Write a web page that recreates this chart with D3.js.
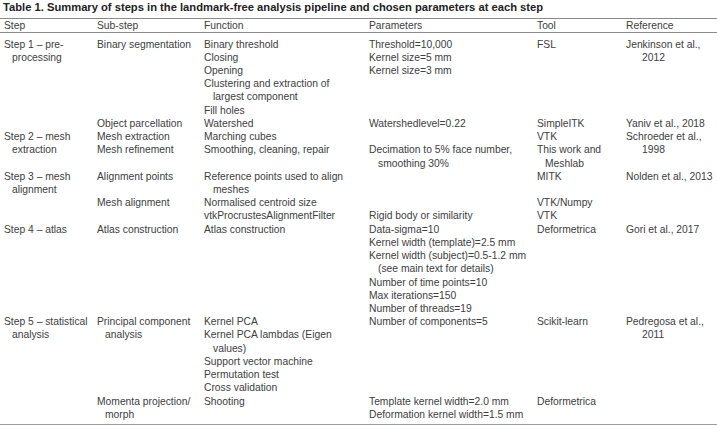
<!DOCTYPE html>
<html>
<head>
<meta charset="utf-8">
<script src="https://cdn.jsdelivr.net/npm/d3@7"></script>
<style>
  body { margin: 0; background: #fff; }
  text { font-family: "Liberation Sans", Arial, sans-serif; }
</style>
</head>
<body>
<div id="canvas"></div>
<script>
// Each cell is a list of entries; an entry is a list of wrapped lines.
const title = "Table 1. Summary of steps in the landmark-free analysis pipeline and chosen parameters at each step";
const headers = ["Step", "Sub-step", "Function", "Parameters", "Tool", "Reference"];

const steps = [
  [["Step 1 – pre-", "processing"]], [], [["Step 2 – mesh", "extraction"]], [],
  [["Step 3 – mesh", "alignment"]], [], [], [["Step 4 – atlas"]],
  [["Step 5 – statistical", "analysis"]], []
];
const subSteps = [
  [["Binary segmentation"]], [["Object parcellation"]], [["Mesh extraction"]], [["Mesh refinement"]],
  [["Alignment points"]], [["Mesh alignment"]], [], [["Atlas construction"]],
  [["Principal component", "analysis"]], [["Momenta projection/", "morph"]]
];
const functions = [
  [["Binary threshold"], ["Closing"], ["Opening"], ["Clustering and extraction of", "largest component"], ["Fill holes"]],
  [["Watershed"]], [["Marching cubes"]], [["Smoothing, cleaning, repair"]],
  [["Reference points used to align", "meshes"]], [["Normalised centroid size"]], [["vtkProcrustesAlignmentFilter"]],
  [["Atlas construction"]],
  [["Kernel PCA"], ["Kernel PCA lambdas (Eigen", "values)"], ["Support vector machine"], ["Permutation test"], ["Cross validation"]],
  [["Shooting"]]
];
const parameters = [
  [["Threshold=10,000"], ["Kernel size=5 mm"], ["Kernel size=3 mm"]],
  [["Watershedlevel=0.22"]], [], [["Decimation to 5% face number,", "smoothing 30%"]],
  [], [], [["Rigid body or similarity"]],
  [["Data-sigma=10"], ["Kernel width (template)=2.5 mm"], ["Kernel width (subject)=0.5-1.2 mm", "(see main text for details)"],
   ["Number of time points=10"], ["Max iterations=150"], ["Number of threads=19"]],
  [["Number of components=5"]],
  [["Template kernel width=2.0 mm"], ["Deformation kernel width=1.5 mm"]]
];
const tools = [
  [["FSL"]], [["SimpleITK"]], [["VTK"]], [["This work and", "Meshlab"]],
  [["MITK"]], [["VTK/Numpy"]], [["VTK"]], [["Deformetrica"]], [["Scikit-learn"]], [["Deformetrica"]]
];
const references = [
  [["Jenkinson et al.,", "2012"]], [["Yaniv et al., 2018"]], [["Schroeder et al.,", "1998"]], [],
  [["Nolden et al., 2013"]], [], [], [["Gori et al., 2017"]], [["Pedregosa et al.,", "2011"]], []
];

const width = 717, height = 425;
const svg = d3.select("#canvas").append("svg").attr("width", width).attr("height", height);

const columns = [steps, subSteps, functions, parameters, tools, references];
const colX = d3.scaleOrdinal().domain(d3.range(6)).range([4, 97, 204, 369, 537, 626]);
const indent = [8, 8, 9, 9, 8, 16];

const flat = cell => cell.flatMap(entry => entry.map((t, k) => ({ t, cont: k > 0 })));

// row start lines: step & reference columns overflow into next rows
const rowStart = [];
let acc = 0;
for (let r = 0; r < subSteps.length; r++) {
  rowStart.push(acc);
  acc += d3.max([subSteps, functions, parameters, tools], c => flat(c[r]).length) || 1;
}
const nLines = acc;

const lineY = d3.scaleLinear().domain([0, 1]).range([44, 44 + 13.22]);
const fs = 10.3;
const textColor = "#404040";

svg.append("text").attr("x", 3).attr("y", 7).attr("dy", "0.35em")
  .attr("font-size", 11.2).attr("font-weight", "bold").attr("fill", "#222")
  .text(title);

const rules = [18, 32, lineY(nLines - 1) + 10];
svg.selectAll("line.rule").data(rules).enter().append("line")
  .attr("x1", 0).attr("x2", width)
  .attr("y1", d => d + 0.5).attr("y2", d => d + 0.5)
  .attr("stroke", "#8a8a8a").attr("stroke-width", 1);

svg.selectAll("text.hdr").data(headers).enter().append("text")
  .attr("x", (d, i) => colX(i)).attr("y", 25).attr("dy", "0.35em")
  .attr("font-size", fs).attr("fill", textColor)
  .text(d => d);

const cells = [];
columns.forEach((col, c) => {
  col.forEach((cell, r) => {
    flat(cell).forEach((l, k) => {
      cells.push({ x: colX(c) + (l.cont ? indent[c] : 0), line: rowStart[r] + k, t: l.t });
    });
  });
});

svg.selectAll("text.cell").data(cells).enter().append("text")
  .attr("x", d => d.x).attr("y", d => lineY(d.line)).attr("dy", "0.35em")
  .attr("font-size", fs).attr("fill", textColor)
  .text(d => d.t);
</script>
</body>
</html>
